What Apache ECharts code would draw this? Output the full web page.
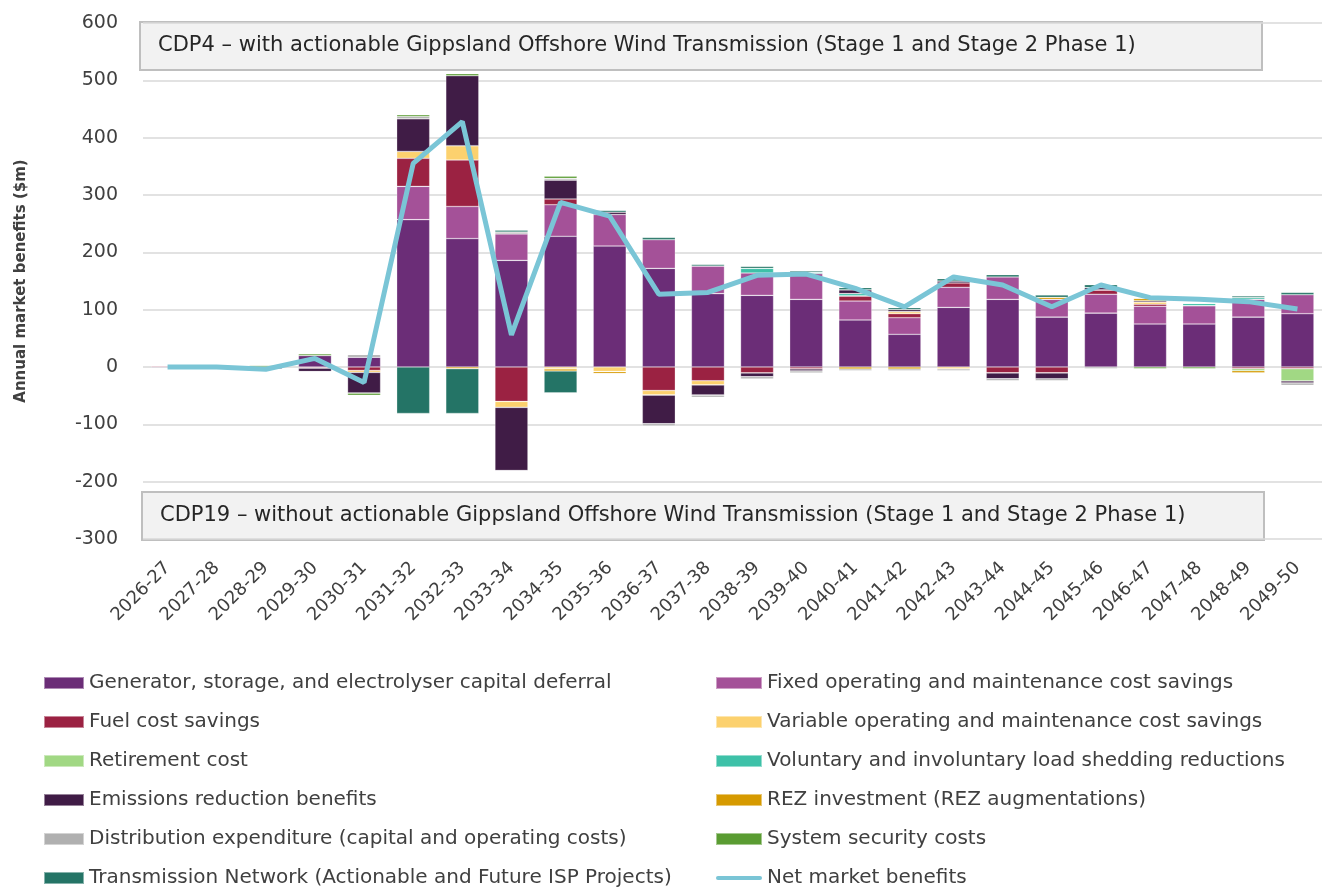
<!DOCTYPE html>
<html>
<head>
<meta charset="utf-8">
<title>Annual market benefits</title>
<script src="https://cdn.jsdelivr.net/npm/echarts@6/dist/echarts.min.js"></script>
<style>
  html, body { margin: 0; padding: 0; background: #fff; }
  #chart { width: 1324px; height: 891px; }
</style>
</head>
<body>
<div id="chart"></div>
<script>
const years = ['2026-27', '2027-28', '2028-29', '2029-30', '2030-31', '2031-32', '2032-33', '2033-34',
  '2034-35', '2035-36', '2036-37', '2037-38', '2038-39', '2039-40', '2040-41', '2041-42', '2042-43',
  '2043-44', '2044-45', '2045-46', '2046-47', '2047-48', '2048-49', '2049-50'];

// $m per year
const generatorDeferral = [0, 0, 0, 20, 17, 257, 224, 186, 228, 211, 172, 128, 125, 118, 82, 57, 104, 118, 87, 94, 75, 75, 87, 93];
const fixedOM = [0, 0, 0, 0, 0, 58, 56, 46, 55, 55, 50, 48, 39, 45, 33, 29, 35, 39, 31, 33, 31, 32, 31, 33];
const fuelSavings = [2, 0, 0, -2, -6, 49, 81, -60, 10, 0, -41, -24, -10.5, -3.5, 9, 7, 7.5, -10.5, -10.5, 7.5, 3.5, 0, -3, -3];
const variableOM = [0, 0, 0, 0, -3.5, 12, 25, -10.5, -3.5, -8, -8, -7.5, 0, 0, 0, 3.5, -3.5, 0, 0, 0, 4, 0, 0, 0];
const retirement = [0, 0, 0, 0, 0, 0, 0, 0, 0, 0, 0, 0, 0, 0, 0, 0, 0, 0, 0, 0, 0, 0, -3.5, -21.5];
const loadShedding = [0, 0, 0, 0, 0, 0, 0, 0, 0, 0, 0, 0, 8, 2, 4, 0, 0, 0, 0, 0, 0, 4, 3, 0];
const emissions = [-2, 0, -3.5, -6, -36, 57, 122, -110, 33, 4, -50, -17.5, -6.5, -3.5, 6.5, 3.5, 3.5, -10, -10, 4, 2, 0, 0, -3.5];
const rezInvestment = [0, 0, 0, 0, 0, 0, -3, 0, -3.5, -3.5, 0, 0, 0, 0, -3.5, -3.5, 0, 0, 3.5, 0, 4, 0, -4, 0];
const distribution = [0, 0, 0, 0, 4.5, 4, 0, 3.5, 3, 0, -4, -4, -4, -3.5, -3, -3, -3, -3.5, -3.5, -3, 0, 0, 0, -4];
const systemSecurity = [0, 2, 2.5, 3, -4, 3, 3.5, 0, 4, 0, 0, 0, 0, 0, 0, 0, 0, 0, 0, 0, -3, -3, 0, 0];
const transmission = [0, 0, 0, 0, 0, -81, -78, 3, -38, 3, 4, 3, 3.5, 2.5, 4, 3.5, 4, 4, 4, 5, 0, 0, 3, 4];
const netBenefits = [0, 0, -4, 15, -27, 355, 428, 56, 287, 263, 127, 130, 160, 162, 137, 105, 157, 143, 105, 143, 121, 118, 114, 101];

const FONT = '"DejaVu Sans", "Open Sans", sans-serif';

const barDefs = [
  ['Generator, storage, and electrolyser capital deferral', generatorDeferral, '#6B2D77'],
  ['Fixed operating and maintenance cost savings', fixedOM, '#A45198'],
  ['Fuel cost savings', fuelSavings, '#9B2242'],
  ['Variable operating and maintenance cost savings', variableOM, '#FCD16E'],
  ['Retirement cost', retirement, '#A1D884'],
  ['Voluntary and involuntary load shedding reductions', loadShedding, '#3EC1A8'],
  ['Emissions reduction benefits', emissions, '#401C46'],
  ['REZ investment (REZ augmentations)', rezInvestment, '#D69A00'],
  ['Distribution expenditure (capital and operating costs)', distribution, '#B0B0B0'],
  ['System security costs', systemSecurity, '#5A9C32'],
  ['Transmission Network (Actionable and Future ISP Projects)', transmission, '#247466']
];

const series = barDefs.map(d => ({
  name: d[0],
  type: 'bar',
  stack: 'benefits',
  barWidth: 33,
  data: d[1],
  itemStyle: {
    color: d[2],
    borderColor: 'rgba(255,255,255,0.45)',
    borderWidth: 0.6
  }
}));

series.push({
  name: 'Net market benefits',
  type: 'line',
  data: netBenefits,
  showSymbol: false,
  symbol: 'none',
  z: 10,
  lineStyle: { color: '#7AC5D6', width: 5 },
  itemStyle: { color: '#7AC5D6' }
});

const legendText = { fontFamily: FONT, fontSize: 20, color: '#404040', lineHeight: 20 };
// capsule shaped line icon for the net benefits entry
const lineIcon = 'path://M2,0 L44,0 A2,2 0 0 1 44,4 L2,4 A2,2 0 0 1 2,0 Z';

const chart = echarts.init(document.getElementById('chart'));
chart.setOption({
  animation: false,
  grid: { left: 143, right: 2, top: 23, bottom: 352 },
  legend: [
    {
      orient: 'vertical', left: 43, top: 673, height: 230, padding: 0,
      icon: 'rect', itemWidth: 40, itemHeight: 12, itemGap: 19,
      textStyle: legendText,
      data: [barDefs[0][0], barDefs[2][0], barDefs[4][0], barDefs[6][0], barDefs[8][0], barDefs[10][0]]
    },
    {
      orient: 'vertical', left: 715, top: 673, height: 230, padding: 0,
      icon: 'rect', itemWidth: 46, itemHeight: 12, itemGap: 19,
      textStyle: legendText,
      data: [barDefs[1][0], barDefs[3][0], barDefs[5][0], barDefs[7][0], barDefs[9][0],
        { name: 'Net market benefits', icon: lineIcon }]
    }
  ],
  xAxis: {
    type: 'category',
    data: years,
    axisLine: { show: false },
    axisTick: { show: false },
    axisLabel: {
      rotate: 45, margin: 26, interval: 0,
      fontFamily: FONT, fontSize: 18, color: '#404040'
    }
  },
  yAxis: {
    type: 'value',
    min: -300, max: 600, interval: 100,
    name: 'Annual market benefits ($m)',
    nameLocation: 'middle',
    nameGap: 114,
    nameTextStyle: { fontFamily: FONT, fontSize: 15, fontWeight: 'bold', color: '#404040' },
    axisLabel: { margin: 25, fontFamily: FONT, fontSize: 19, color: '#404040' },
    splitLine: { lineStyle: { color: '#D9D9D9', width: 1.5 } }
  },
  graphic: [
    {
      type: 'group', z: 100,
      children: [
        { type: 'rect', shape: { x: 140, y: 22, width: 1122, height: 48 },
          style: { fill: '#F2F2F2', stroke: '#BFBFBF', lineWidth: 2 } },
        { type: 'text', x: 158, y: 46,
          style: { text: 'CDP4 – with actionable Gippsland Offshore Wind Transmission (Stage 1 and Stage 2 Phase 1)',
            fontFamily: FONT, fontSize: 21, fill: '#262626', verticalAlign: 'middle' } },
        { type: 'rect', shape: { x: 142, y: 492, width: 1122, height: 48 },
          style: { fill: '#F2F2F2', stroke: '#BFBFBF', lineWidth: 2 } },
        { type: 'text', x: 160, y: 516,
          style: { text: 'CDP19 – without actionable Gippsland Offshore Wind Transmission (Stage 1 and Stage 2 Phase 1)',
            fontFamily: FONT, fontSize: 21, fill: '#262626', verticalAlign: 'middle' } }
      ]
    }
  ],
  series: series
});
</script>
</body>
</html>
